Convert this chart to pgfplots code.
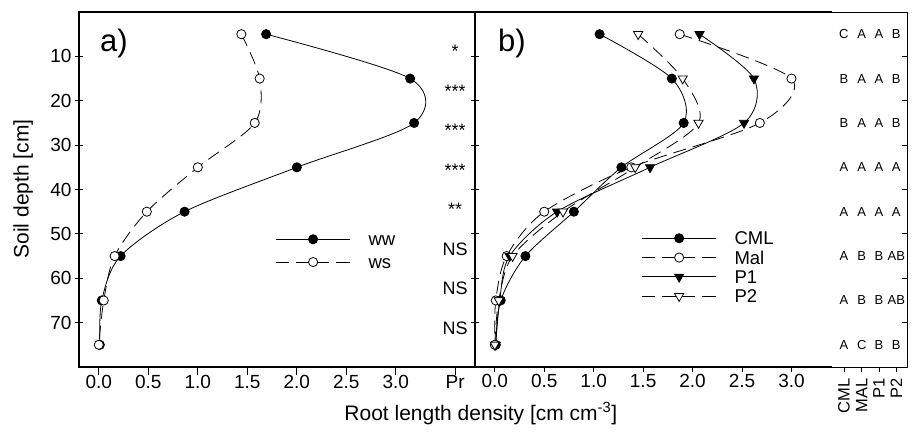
\documentclass[border=0pt]{standalone}
\usepackage{pgfplots}
\pgfplotsset{compat=1.18}
\usepackage{fontspec}
\setmainfont{Liberation Sans}
\newcommand{\fs}[1]{\fontsize{#1}{#1}\selectfont}
\newcommand{\lrow}[5]{%
 \node[font=\fs{13}, inner sep=0pt] at (axis cs:3.53,#1) {#2};
 \node[font=\fs{13}, inner sep=0pt] at (axis cs:3.71,#1) {#3};
 \node[font=\fs{13}, inner sep=0pt] at (axis cs:3.885,#1) {#4};
 \node[font=\fs{13}, inner sep=0pt] at (axis cs:4.06,#1) {#5};}
\begin{document}
\begin{tikzpicture}
\path[use as bounding box] (0,0) rectangle (914pt,432pt);
\pgfplotsset{
  every axis/.append style={
    scale only axis, clip=false,
    ymin=0, ymax=80, y dir=reverse,
    xmin=-0.2,
    ytick={10,20,...,70},
    xtick={0,0.5,1,1.5,2,2.5,3},
    xticklabels={0.0,0.5,1.0,1.5,2.0,2.5,3.0},
    tick label style={font=\fs{19}, black},
    /pgf/number format/assume math mode=true,
    tick style={black, line width=0.8pt},
    legend cell align=left,
    legend image code/.code={\draw[mark repeat=2,mark phase=2,##1] plot coordinates {(0pt,0pt) (37pt,0pt) (74pt,0pt)};},
  },
  solidline/.style={black, line width=0.8pt, smooth, mark size=4.6pt},
  dashline/.style={black, line width=0.8pt, smooth, dash pattern=on 13pt off 7pt, mark size=4.6pt},
}
% ---------- panel a
\begin{axis}[at={(79pt,65pt)}, anchor=south west, width=396pt, height=355pt,
  xmax=3.8,
  extra x ticks={3.6}, extra x tick labels={Pr},
  xtick pos=bottom, ytick pos=both, yticklabel pos=left,
  tick align=center, major tick length=8pt,
  xtick style={yshift=-4pt},
  xticklabel shift=1pt,
  axis line style={line width=1.6pt},
  legend style={at={(axis cs:1.787,49.75)}, anchor=north west, draw=none, fill=none,
    inner sep=0pt, outer sep=0pt, column sep=18pt, row sep=9.8pt, font=\fs{18.5},
    nodes={inner sep=0pt, text height=13pt, text depth=0pt}},
]
\addplot[solidline, mark=*, mark options={solid, fill=black}] coordinates {(1.69,5) (3.145,15) (3.185,25) (2.0,35) (0.866,45) (0.22,55) (0.03,65) (0.01,75)};
\addlegendentry{ww}
\addplot[dashline, mark=*, mark options={solid, fill=white}] coordinates {(1.44,5) (1.625,15) (1.575,25) (1.0,35) (0.485,45) (0.16,55) (0.05,65) (0.0,75)};
\addlegendentry{ws}
\node[anchor=base west, font=\fs{31}, inner sep=0pt] at (axis cs:0.012,8.95) {a)};
\node[anchor=base, font=\fs{18}] at (axis cs:3.6,10.28) {*};
\node[anchor=base, font=\fs{18}] at (axis cs:3.6,19.2) {***};
\node[anchor=base, font=\fs{18}] at (axis cs:3.6,28.1) {***};
\node[anchor=base, font=\fs{18}] at (axis cs:3.6,37.1) {***};
\node[anchor=base, font=\fs{18}] at (axis cs:3.6,45.9) {**};
\node[anchor=base, font=\fs{18}] at (axis cs:3.6,54.8) {NS};
\node[anchor=base, font=\fs{18}] at (axis cs:3.6,63.7) {NS};
\node[anchor=base, font=\fs{18}] at (axis cs:3.6,72.6) {NS};
\end{axis}
% ---------- panel b
\begin{axis}[at={(475pt,65pt)}, anchor=south west, width=432pt, height=355pt,
  xmax=4.168,
  extra x ticks={3.53,3.71,3.885,4.06}, extra x tick labels={CML,MAL,P1,P2},
  extra x tick style={tick label style={yshift=-4pt, rotate=90, anchor=east, font=\fs{16.5}}},
  yticklabels={},
  xtick pos=bottom, ytick pos=right,
  tick align=inside, major tick length=5pt,
  xtick style={yshift=-5pt},
  xticklabel shift=4pt,
  axis line style={line width=0.8pt},
  legend style={at={(axis cs:1.486,49.52)}, anchor=north west, draw=none, fill=none,
    inner sep=0pt, outer sep=0pt, column sep=18pt, row sep=6.3pt, font=\fs{18.5},
    nodes={inner sep=0pt, text height=13pt, text depth=0pt}},
]
\addplot[solidline, mark=*, mark options={solid, fill=black}] coordinates {(1.06,5) (1.79,15) (1.91,25) (1.28,35) (0.80,45) (0.31,55) (0.06,65) (0.01,75)};
\addlegendentry{CML}
\addplot[dashline, mark=*, mark options={solid, fill=white}] coordinates {(1.87,5) (3.00,15) (2.68,25) (1.38,35) (0.50,45) (0.12,55) (0.01,65) (0.0,75)};
\addlegendentry{Mal}
\addplot[solidline, mark=triangle*, mark size=5.3pt, mark options={solid, fill=black, rotate=180}] coordinates {(2.07,5) (2.62,15) (2.52,25) (1.57,35) (0.63,45) (0.15,55) (0.05,65) (0.01,75)};
\addlegendentry{P1}
\addplot[dashline, mark=triangle*, mark size=5.3pt, mark options={solid, fill=white, rotate=180}] coordinates {(1.45,5) (1.90,15) (2.06,25) (1.42,35) (0.69,45) (0.18,55) (0.04,65) (0.0,75)};
\addlegendentry{P2}
\draw[line width=1.6pt] (axis cs:3.41,0) -- (axis cs:-0.2,0) -- (axis cs:-0.2,80) -- (axis cs:3.41,80);
\node[anchor=base west, font=\fs{31}, inner sep=0pt] at (axis cs:0.033,8.95) {b)};
\lrow{5}{C}{A}{A}{B}
\lrow{15}{B}{A}{A}{B}
\lrow{25}{B}{A}{A}{B}
\lrow{35}{A}{A}{A}{A}
\lrow{45}{A}{A}{A}{A}
\lrow{55}{A}{B}{B}{AB}
\lrow{65}{A}{B}{B}{AB}
\lrow{75}{A}{C}{B}{B}
\end{axis}
\node[anchor=base, font=\fs{21}] at (480.8pt,12pt) {Root length density [cm cm\textsuperscript{-3}]};
\node[anchor=base, rotate=90, font=\fs{21}] at (28.6pt,243pt) {Soil depth [cm]};
\end{tikzpicture}
\end{document}
